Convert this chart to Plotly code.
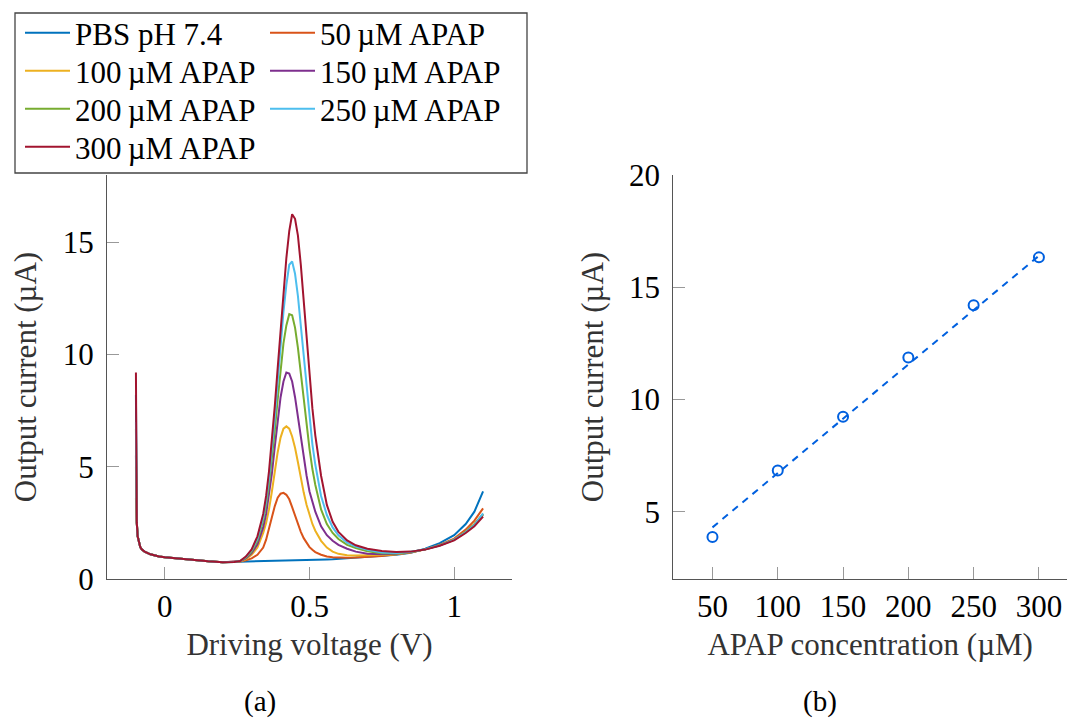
import plotly.graph_objects as go

# ---------------- data ----------------
voltage = [-0.1, -0.099, -0.097, -0.094, -0.09, -0.085, -0.08, -0.07, -0.05, -0.02, 0.0, 0.05, 0.10, 0.15, 0.20, 0.24,
           0.26, 0.28, 0.30, 0.32, 0.34,
           0.35, 0.36, 0.37, 0.38, 0.39, 0.40, 0.41, 0.42, 0.43, 0.44, 0.45, 0.46, 0.47, 0.48, 0.49, 0.50, 0.51, 0.52,
           0.54, 0.56, 0.58, 0.60, 0.63, 0.66, 0.70, 0.75,
           0.80, 0.85, 0.90, 0.95, 1.00, 1.04, 1.07, 1.10]

pbs = [8.2, 3.8, 2.5, 1.9, 1.6, 1.42, 1.32, 1.22, 1.1, 1.0, 0.97, 0.9, 0.84, 0.79, 0.75, 0.76,
       0.77, 0.77, 0.78, 0.78, 0.79,
       0.79, 0.79, 0.80, 0.80, 0.80, 0.81, 0.81, 0.81, 0.82, 0.82, 0.82, 0.83, 0.83, 0.83, 0.84, 0.84, 0.85, 0.85,
       0.86, 0.87, 0.88, 0.90, 0.93, 0.96, 0.99, 1.03,
       1.08, 1.17, 1.35, 1.6, 1.95, 2.45, 3.0, 3.9]

apap_50 = [3.6, 2.9, 2.5, 1.9, 1.6, 1.42, 1.32, 1.22, 1.1, 1.0, 0.97, 0.9, 0.84, 0.79, 0.75, 0.76,
           0.78, 0.83, 0.92, 1.08, 1.4,
           1.75, 2.2, 2.75, 3.25, 3.62, 3.8, 3.84, 3.75, 3.55, 3.2, 2.8, 2.45, 2.1, 1.82, 1.6, 1.42, 1.3, 1.2,
           1.08, 1.0, 0.97, 0.95, 0.95, 0.96, 0.99, 1.03,
           1.1, 1.18, 1.32, 1.52, 1.8, 2.2, 2.6, 3.15]

apap_100 = [5.0, 3.8, 2.5, 1.9, 1.6, 1.42, 1.32, 1.22, 1.1, 1.0, 0.97, 0.9, 0.84, 0.79, 0.75, 0.76,
            0.78, 0.88, 1.08, 1.4, 2.05,
            2.5, 3.1, 3.9, 4.8, 5.65, 6.3, 6.7, 6.8, 6.7, 6.35, 5.85, 5.2, 4.5, 3.85, 3.3, 2.85, 2.45, 2.15,
            1.7, 1.4, 1.22, 1.12, 1.06, 1.05, 1.05, 1.07,
            1.1, 1.19, 1.32, 1.5, 1.76, 2.12, 2.45, 2.9]

apap_150 = [5.5, 3.9, 2.5, 1.9, 1.6, 1.42, 1.32, 1.22, 1.1, 1.0, 0.97, 0.9, 0.84, 0.79, 0.75, 0.76,
            0.79, 0.92, 1.15, 1.55, 2.3,
            2.9, 3.7, 4.7, 5.9, 7.1, 8.1, 8.8, 9.2, 9.15, 8.8, 8.1, 7.2, 6.3, 5.4, 4.6, 3.9, 3.4, 3.0,
            2.35, 1.95, 1.7, 1.52, 1.35, 1.22, 1.13, 1.1,
            1.12, 1.2, 1.32, 1.5, 1.75, 2.1, 2.42, 2.88]

apap_200 = [6.7, 4.0, 2.5, 1.9, 1.6, 1.42, 1.32, 1.22, 1.1, 1.0, 0.97, 0.9, 0.84, 0.79, 0.75, 0.76,
            0.8, 0.95, 1.22, 1.7, 2.6,
            3.3, 4.2, 5.3, 6.6, 8.0, 9.3, 10.5, 11.3, 11.8, 11.75, 11.2, 10.3, 9.2, 8.0, 6.8, 5.8, 4.9, 4.2,
            3.1, 2.45, 2.05, 1.78, 1.52, 1.38, 1.24, 1.15,
            1.14, 1.2, 1.32, 1.5, 1.75, 2.1, 2.42, 2.88]

apap_250 = [7.0, 4.0, 2.5, 1.9, 1.6, 1.42, 1.32, 1.22, 1.1, 1.0, 0.97, 0.9, 0.84, 0.79, 0.75, 0.76,
            0.8, 0.98, 1.28, 1.8, 2.75,
            3.5, 4.5, 5.7, 7.2, 8.8, 10.4, 11.9, 13.1, 14.0, 14.15, 13.6, 12.6, 11.3, 9.9, 8.5, 7.2, 6.0, 5.1,
            3.7, 2.85, 2.3, 1.95, 1.62, 1.45, 1.3, 1.18,
            1.16, 1.21, 1.32, 1.49, 1.74, 2.08, 2.4, 2.92]

apap_300 = [9.2, 4.0, 2.5, 1.9, 1.6, 1.42, 1.32, 1.22, 1.1, 1.0, 0.97, 0.9, 0.84, 0.79, 0.75, 0.76,
            0.8, 1.0, 1.32, 1.9, 2.9,
            3.7, 4.8, 6.1, 7.7, 9.4, 11.1, 12.8, 14.3, 15.5, 16.25, 16.05, 15.3, 14.0, 12.4, 10.7, 9.1, 7.6, 6.4,
            4.6, 3.3, 2.55, 2.1, 1.72, 1.5, 1.35, 1.25,
            1.2, 1.22, 1.31, 1.48, 1.72, 2.05, 2.35, 2.78]

series_names = ["PBS pH 7.4", "50\u2009\u00b5M APAP", "100\u2009\u00b5M APAP", "150\u2009\u00b5M APAP",
                "200\u2009\u00b5M APAP", "250\u2009\u00b5M APAP", "300\u2009\u00b5M APAP"]
series_values = [pbs, apap_50, apap_100, apap_150, apap_200, apap_250, apap_300]
series_colors = ["#0072BD", "#D95319", "#EDB120", "#7E2F8E", "#77AC30", "#4DBEEE", "#A2142F"]

concentration = [50, 100, 150, 200, 250, 300]
peak_current = [3.87, 6.83, 9.23, 11.87, 14.2, 16.33]
fit_x = [50, 300]
fit_y = [4.3, 16.4]

# ---------------- figure ----------------
W, H = 1067, 720
FONT = "Liberation Serif, Times New Roman, serif"
FS = 31

fig = go.Figure()
legend_ids = ["legend"] + ["legend%d" % i for i in range(2, 8)]
for name, vals, col, lg in zip(series_names, series_values, series_colors, legend_ids):
    fig.add_trace(go.Scatter(x=voltage, y=vals, mode="lines", name=name,
                             line=dict(color=col, width=2), legend=lg,
                             xaxis="x", yaxis="y"))

fig.add_trace(go.Scatter(x=fit_x, y=fit_y, mode="lines", showlegend=False,
                         line=dict(color="#0060df", width=2, dash="7px,6px"),
                         xaxis="x2", yaxis="y2"))
fig.add_trace(go.Scatter(x=concentration, y=peak_current, mode="markers", showlegend=False,
                         marker=dict(symbol="circle-open", size=10, color="#0060df",
                                     line=dict(width=2, color="#0060df")),
                         xaxis="x2", yaxis="y2"))

ydom = [1 - 579 / H, 1 - 175 / H]
axis_common = dict(showline=True, linecolor="#555555", linewidth=1.3, ticks="inside", ticklen=12,
                   tickcolor="#999999", tickwidth=1, showgrid=False, zeroline=False,
                   tickfont=dict(family=FONT, size=FS, color="black"), automargin=False)
title_font = dict(family=FONT, size=FS, color="#333333")

# legend positions: two columns, four rows (item centre in px)
col_x = [20, 265]
row_y = [33, 71, 109, 147]
legend_layout = {}
for i, lg in enumerate(legend_ids):
    legend_layout[lg] = dict(x=col_x[i % 2] / W, y=1 - row_y[i // 2] / H, xanchor="left", yanchor="middle",
                             bgcolor="rgba(0,0,0,0)", borderwidth=0,
                             font=dict(family=FONT, size=FS, color="black"), itemwidth=45)

fig.update_layout(
    width=W, height=H, margin=dict(l=0, r=0, t=0, b=0),
    paper_bgcolor="white", plot_bgcolor="white",
    font=dict(family=FONT, size=FS, color="black"),
    xaxis=dict(domain=[107 / W, 512 / W], range=[-0.2, 1.2], tickvals=[0, 0.5, 1],
               ticktext=["0", "0.5", "1"], anchor="y",
               title=dict(text="Driving voltage (V)", font=title_font, standoff=9),
               **axis_common),
    yaxis=dict(domain=ydom, range=[0, 18], tickvals=[0, 5, 10, 15], anchor="x",
               title=dict(text="Output current (\u00b5A)", font=title_font, standoff=16),
               ticklabelstandoff=6, **axis_common),
    xaxis2=dict(domain=[673.3 / W, 1.0], range=[20, 321.5], tickvals=concentration, anchor="y2",
                title=dict(text="APAP concentration (\u00b5M)", font=title_font, standoff=9),
                **axis_common),
    yaxis2=dict(domain=ydom, range=[2, 20], tickvals=[5, 10, 15, 20], anchor="x2",
                title=dict(text="Output current (\u00b5A)", font=title_font, standoff=16),
                ticklabelstandoff=6, **axis_common),
    shapes=[dict(type="rect", xref="paper", yref="paper", x0=15 / W, x1=527 / W,
                 y0=1 - 173 / H, y1=1 - 13 / H, line=dict(color="#444444", width=1.3),
                 fillcolor="white", layer="below")],
    annotations=[
        dict(text="(a)", x=260 / W, y=0.002, xref="paper", yref="paper", showarrow=False,
             font=dict(family=FONT, size=29, color="black"), xanchor="center", yanchor="bottom",
             borderpad=0),
        dict(text="(b)", x=820 / W, y=0.002, xref="paper", yref="paper", showarrow=False,
             font=dict(family=FONT, size=29, color="black"), xanchor="center", yanchor="bottom",
             borderpad=0),
    ],
    **legend_layout,
)

fig.write_html("out.html")
